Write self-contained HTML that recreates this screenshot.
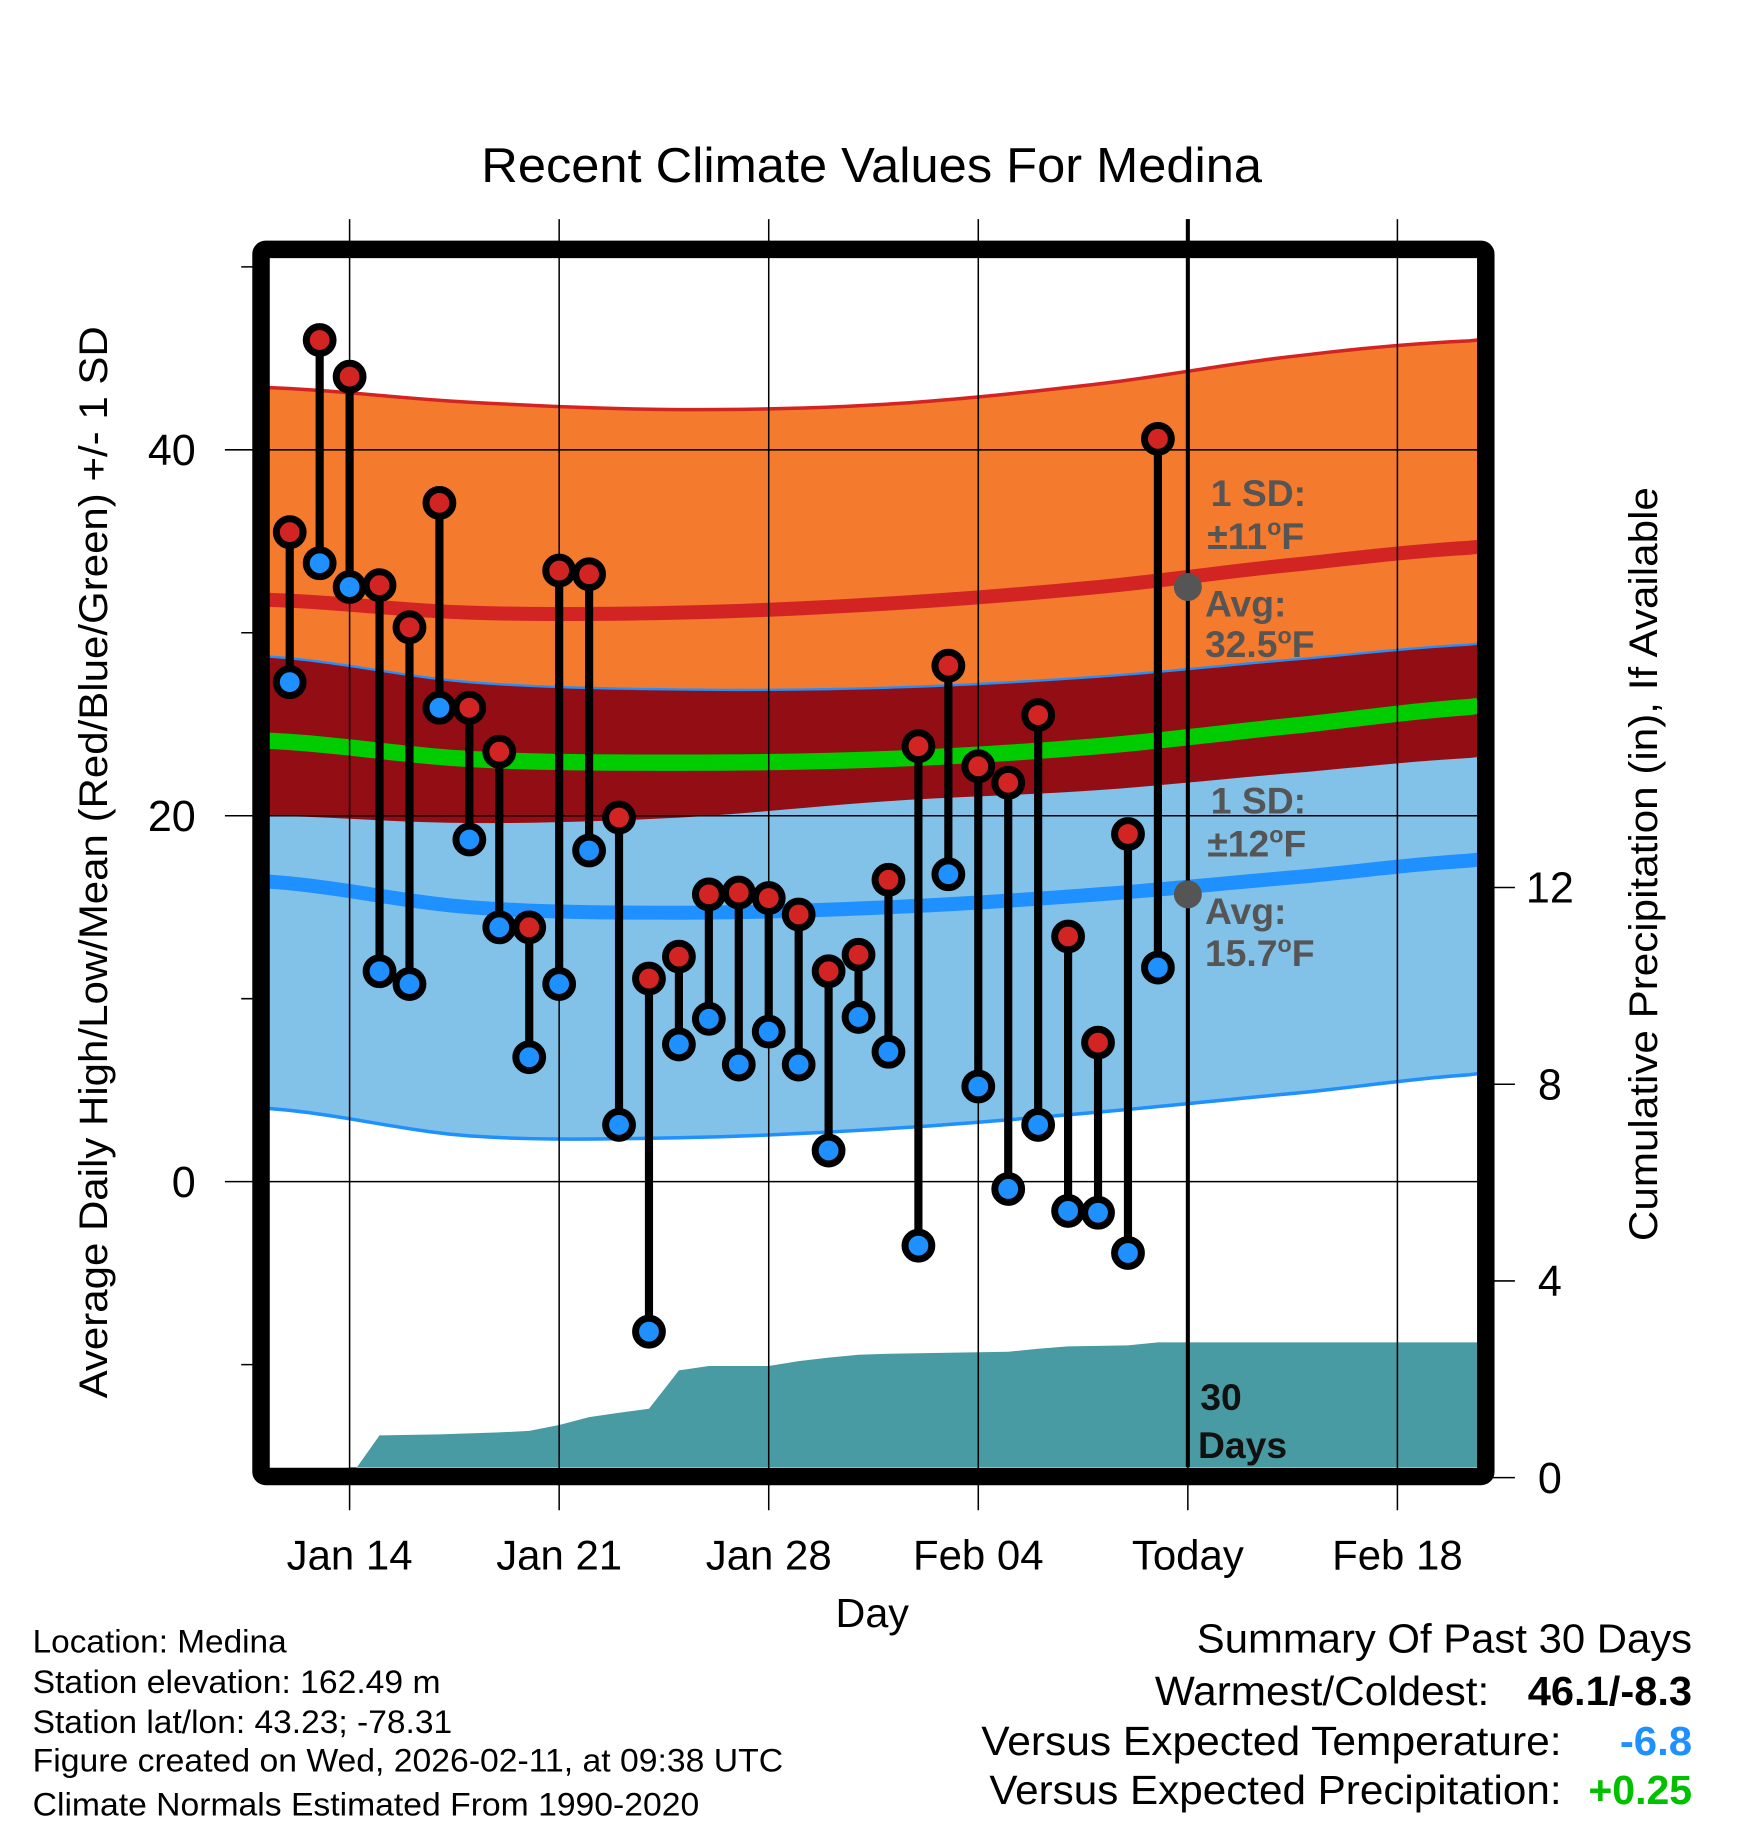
<!DOCTYPE html>
<html><head><meta charset="utf-8"><style>html,body{margin:0;padding:0;background:#fff}svg{display:block}</style></head>
<body>
<svg id="chart" width="1748" height="1828" viewBox="0 0 1500 1568.65" xmlns="http://www.w3.org/2000/svg" font-family="Liberation Sans, Arial, sans-serif">
<g id="bands"></g>
<g id="precip"></g>
<g id="grid"></g>
<g id="marks"></g>
<g id="annot"></g>
<text x="413" y="156" font-size="42" textLength="670" lengthAdjust="spacingAndGlyphs">Recent Climate Values For Medina</text>
<text transform="translate(92,1200) rotate(-90)" font-size="34" textLength="920" lengthAdjust="spacingAndGlyphs">Average Daily High/Low/Mean (Red/Blue/Green) +/- 1 SD</text>
<text transform="translate(1422,1065) rotate(-90)" font-size="34" textLength="647" lengthAdjust="spacingAndGlyphs">Cumulative Precipitation (in), If Available</text>
<text x="717" y="1396" font-size="35" textLength="63" lengthAdjust="spacingAndGlyphs">Day</text>
<g font-size="28" lengthAdjust="spacingAndGlyphs">
<text x="28" y="1418" textLength="218" lengthAdjust="spacingAndGlyphs">Location: Medina</text>
<text x="28" y="1453" textLength="350" lengthAdjust="spacingAndGlyphs">Station elevation: 162.49 m</text>
<text x="28" y="1487" textLength="360" lengthAdjust="spacingAndGlyphs">Station lat/lon: 43.23; -78.31</text>
<text x="28" y="1520" textLength="644" lengthAdjust="spacingAndGlyphs">Figure created on Wed, 2026-02-11, at 09:38 UTC</text>
<text x="28" y="1558" textLength="572" lengthAdjust="spacingAndGlyphs">Climate Normals Estimated From 1990-2020</text>
</g>
<g font-size="35">
<text x="1027" y="1418" textLength="425" lengthAdjust="spacingAndGlyphs">Summary Of Past 30 Days</text>
<text x="991" y="1463" textLength="287" lengthAdjust="spacingAndGlyphs">Warmest/Coldest:</text>
<text x="1311" y="1463" font-weight="bold" textLength="141" lengthAdjust="spacingAndGlyphs">46.1/-8.3</text>
<text x="842" y="1506" textLength="498" lengthAdjust="spacingAndGlyphs">Versus Expected Temperature:</text>
<text x="1390" y="1506" font-weight="bold" fill="#1e90ff" textLength="62" lengthAdjust="spacingAndGlyphs">-6.8</text>
<text x="849" y="1548" textLength="491" lengthAdjust="spacingAndGlyphs">Versus Expected Precipitation:</text>
<text x="1363" y="1548" font-weight="bold" fill="#00c000" textLength="89" lengthAdjust="spacingAndGlyphs">+0.25</text>
</g>
</svg>
<script>
// days since Jan 11 (Jan 14 = 3)
const days = [1,2,3,4,5,6,7,8,9,10,11,12,13,14,15,16,17,18,19,20,21,22,23,24,25,26,27,28,29,30];
const highs = [35.5,46.0,44.0,32.6,30.3,37.1,25.9,23.5,13.9,33.4,33.2,19.9,11.1,12.3,15.7,15.8,15.5,14.6,11.5,12.4,16.5,23.8,28.2,22.7,21.8,25.5,13.4,7.6,19.0,40.6];
const lows = [27.3,33.8,32.5,11.5,10.8,25.9,18.7,13.9,6.8,10.8,18.1,3.1,-8.2,7.5,8.9,6.4,8.2,6.4,1.7,9.0,7.1,-3.5,16.8,5.2,-0.4,3.1,-1.6,-1.7,-3.9,11.7];
const precipDays = [3,4,5,6,7,8,9,10,11,12,13,14,15,16,17,18,19,20,21,22,23,24,25,26,27,28,29,30,41];
const precip = [0,0.86,0.87,0.88,0.90,0.92,0.95,1.07,1.23,1.32,1.40,2.18,2.27,2.27,2.27,2.37,2.44,2.50,2.52,2.53,2.54,2.55,2.56,2.62,2.67,2.68,2.69,2.75,2.75];
const normDays = [0.3,7,14,21,28,35,41];
const highPlus = [43.4,42.6,42.2,42.5,43.6,45.2,46.0];
const highAvg = [31.8,31.1,31.1,31.6,32.5,33.8,34.7];
const lowPlus = [28.7,27.3,26.9,27.0,27.6,28.6,29.4];
const meanAvg = [24.1,23.1,22.9,23.1,23.8,25.0,26.0];
const highMinus = [20.0,19.6,19.9,20.8,21.4,22.4,23.2];
const lowAvg = [16.4,15.0,14.7,15.0,15.7,16.7,17.6];
const lowMinus = [4.0,2.5,2.4,2.9,3.8,4.9,5.9];
const xTickDays = [3,10,17,24,31,38];
const xTickLabels = ["Jan 14","Jan 21","Jan 28","Feb 04","Today","Feb 18"];
const yTicks = [0,20,40];
const yMinor = [-10,10,30,50];
const y2Ticks = [0,4,8,12];

const NS="http://www.w3.org/2000/svg";
const L=231,R=1268,T=222,B=1259;
const x=d=>300+(d-3)*25.69;
const y=t=>1014-t*15.7;
const y2=p=>1268-p*42.2;
function mk(tag,attrs,parent){const e=document.createElementNS(NS,tag);for(const k in attrs)e.setAttribute(k,attrs[k]);parent.appendChild(e);return e;}
function smooth(xs,ys){
 const pts=[];for(let i=0;i<xs.length-1;i++){for(let s=0;s<10;s++){const t=s/10;const p0=ys[Math.max(i-1,0)],p1=ys[i],p2=ys[i+1],p3=ys[Math.min(i+2,ys.length-1)];
 const v=0.5*((2*p1)+(-p0+p2)*t+(2*p0-5*p1+4*p2-p3)*t*t+(-p0+3*p1-3*p2+p3)*t*t*t);pts.push([xs[i]+(xs[i+1]-xs[i])*t,v]);}}
 pts.push([xs[xs.length-1],ys[ys.length-1]]);return pts;}
function line(vals){return smooth(normDays,vals).map(p=>[Math.min(Math.max(x(p[0]),L),R),y(p[1])]);}
function poly(a,b){return a.map(p=>p.join(',')).concat(b.slice().reverse().map(p=>p.join(','))).join(' ');}
const bands=document.getElementById('bands');
const hp=line(highPlus),hm=line(highMinus),lp=line(lowPlus),lm=line(lowMinus),ha=line(highAvg),la=line(lowAvg),ma=line(meanAvg);
let e;
e=mk('polygon',{points:poly(hp,hm),fill:'#f47a2d'},bands);


e=mk('polygon',{points:poly(lp,lm),fill:'#82c1e8'},bands);


e=mk('polygon',{points:poly(lp,hm),fill:'#930d14'},bands);


function pl(pts,c,w,name){const q=mk('polyline',{points:pts.map(p=>p.join(',')).join(' '),fill:'none',stroke:c,'stroke-width':w},bands);

}
pl(hp,'#d32424',3,'high-plus-sd-line');pl(lp,'#1e90ff',2,'low-plus-sd-line');pl(lm,'#1e90ff',3,'low-minus-sd-line');
pl(ha,'#d32424',12,'average-high-line');pl(la,'#1e90ff',12,'average-low-line');pl(ma,'#00cc00',14,'average-mean-line');
const pg=document.getElementById('precip');
let pp=precipDays.map((d,i)=>[Math.min(x(d),R),y2(precip[i])]);
pp.push([R,y2(precip[precip.length-1])]);pp.push([R,B]);pp.push([x(precipDays[0]),B]);
e=mk('polygon',{points:pp.map(p=>p.join(',')).join(' '),fill:'#489aa3'},pg);


const g=document.getElementById('grid');
xTickDays.forEach((d,i)=>{
 e=mk('line',{x1:x(d),x2:x(d),y1:188,y2:1296,stroke:'#000','stroke-width':1.3},g);
 
 
 e=mk('text',{x:x(d),y:1347,'font-size':36,'text-anchor':'middle'},g);e.textContent=xTickLabels[i];
 
 
});
yTicks.forEach(t=>{
 e=mk('line',{x1:193,x2:R,y1:y(t),y2:y(t),stroke:'#000','stroke-width':1.3},g);
 
 
 e=mk('text',{x:168,y:y(t)+13,'font-size':37,'text-anchor':'end'},g);e.textContent=t;
 
 
});
yMinor.forEach(t=>{e=mk('line',{x1:207,x2:225,y1:y(t),y2:y(t),stroke:'#000','stroke-width':1.3},g);
 
 });
y2Ticks.forEach(p=>{
 e=mk('line',{x1:1275,x2:1300,y1:y2(p),y2:y2(p),stroke:'#000','stroke-width':1.3},g);
 
 
 e=mk('text',{x:1330,y:y2(p)+13,'font-size':37,'text-anchor':'middle'},g);e.textContent=p;
 
 
});
e=mk('rect',{x:224,y:214,width:1051,height:1053,fill:'none',stroke:'#000','stroke-width':15,rx:4},g);


e=mk('line',{x1:x(31),x2:x(31),y1:188,y2:B,stroke:'#000','stroke-width':3.5},g);


const m=document.getElementById('marks');
days.forEach((d,i)=>{
 e=mk('line',{x1:x(d),x2:x(d),y1:y(highs[i]),y2:y(lows[i]),stroke:'#000','stroke-width':7},m);
 
 
});
days.forEach((d,i)=>{
 e=mk('circle',{cx:x(d),cy:y(highs[i]),r:11.5,fill:'#d32424',stroke:'#000','stroke-width':6},m);
 
 
 e=mk('circle',{cx:x(d),cy:y(lows[i]),r:11.5,fill:'#1e90ff',stroke:'#000','stroke-width':6},m);
 
 
});
const a=document.getElementById('annot');
const tx=x(31);
e=mk('circle',{cx:tx,cy:y(highAvg[4]),r:12,fill:'#555'},a);


e=mk('circle',{cx:tx,cy:y(lowAvg[4]),r:12,fill:'#555'},a);


function at(s,xx,yy,fs,col){const t=mk('text',{x:xx,y:yy,'font-size':fs,'font-weight':'bold',fill:col},a);t.innerHTML=s;

}
at('1 SD:',1039,434,32,'#555');at('±11<tspan font-size="20" dy="-12">o</tspan><tspan dy="12">F</tspan>',1036,471,32,'#555');
at('Avg:',1034,529,32,'#555');at('32.5<tspan font-size="20" dy="-12">o</tspan><tspan dy="12">F</tspan>',1034,564,32,'#555');
at('1 SD:',1039,698,32,'#555');at('±12<tspan font-size="20" dy="-12">o</tspan><tspan dy="12">F</tspan>',1036,735,32,'#555');
at('Avg:',1034,793,32,'#555');at('15.7<tspan font-size="20" dy="-12">o</tspan><tspan dy="12">F</tspan>',1034,829,32,'#555');
at('30',1030,1210,32,'#111');at('Days',1028,1251,32,'#111');
</script>
</body></html>
